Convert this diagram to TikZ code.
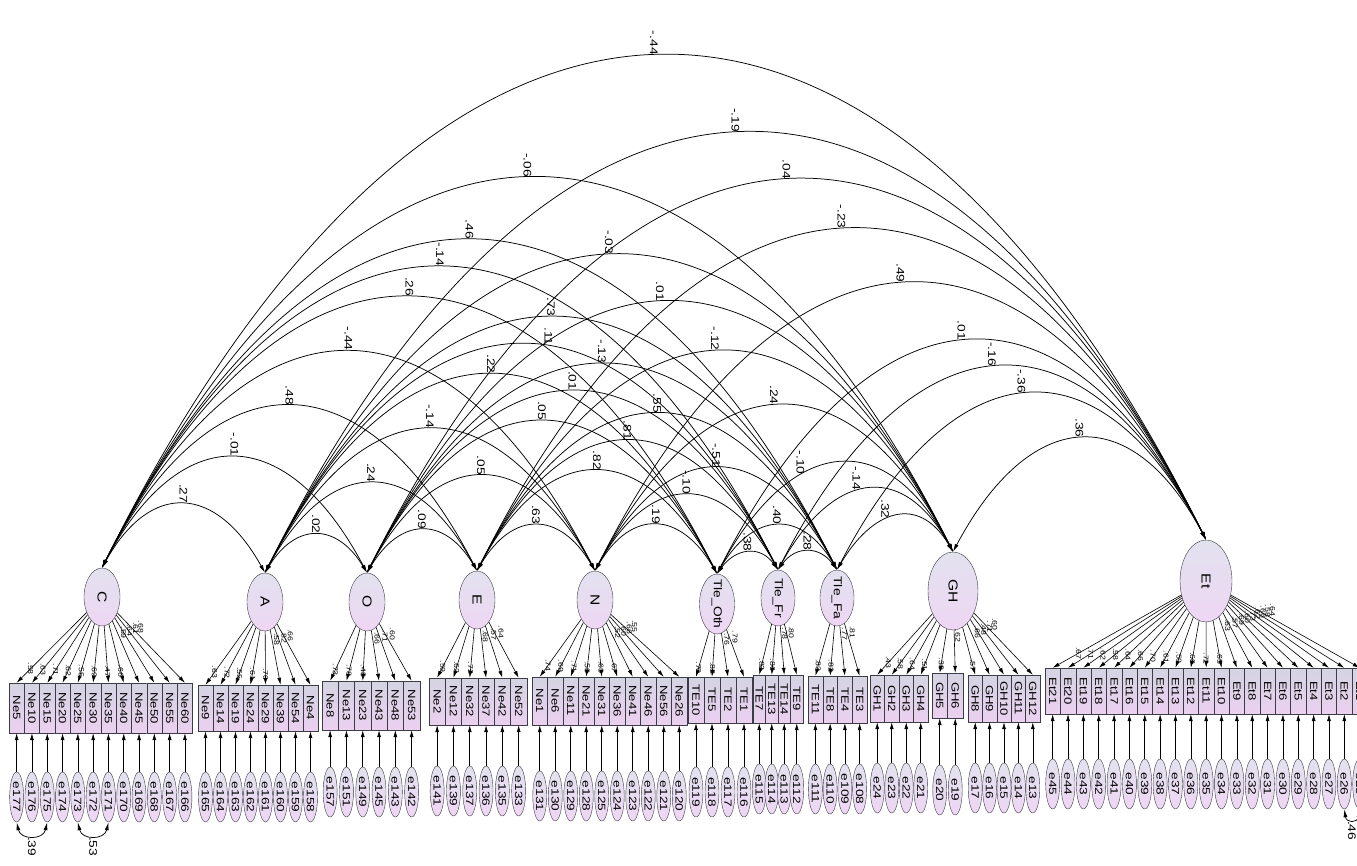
\documentclass[tikz,border=0pt]{standalone}
\usepackage{fontspec}
\setmainfont{Liberation Sans}
\usepackage{graphicx}
\usetikzlibrary{arrows.meta,shapes.geometric,calc}

\definecolor{lattop}{RGB}{226,226,238}
\definecolor{latbot}{RGB}{238,214,244}
\definecolor{boxtop}{RGB}{212,212,226}
\definecolor{boxbot}{RGB}{236,208,240}
\definecolor{edge}{RGB}{60,60,70}

\newcommand{\vt}[2][1.25]{\rotatebox{-90}{\scalebox{#1}[1]{#2}}}

\tikzset{
  lat/.style={ellipse, draw=edge, top color=lattop, bottom color=latbot, inner sep=0pt, minimum width=36, minimum height=58, font=\fontsize{13}{13}\selectfont},
  obs/.style={rectangle, draw=edge, top color=boxtop, bottom color=boxbot, inner sep=0pt, font=\fontsize{10.5}{10.5}\selectfont},
  err/.style={ellipse, draw=edge, top color=lattop, bottom color=latbot, inner sep=0pt, minimum width=14, minimum height=50, font=\fontsize{10.5}{10.5}\selectfont},
  load/.style={-{Latex[length=7pt,width=4pt]}, line width=0.6pt},
  cov/.style={{Latex[length=8pt,width=4pt]}-{Latex[length=8pt,width=4pt]}, line width=0.75pt},
  clab/.style={font=\fontsize{11}{11}\selectfont, inner sep=1pt, anchor=south},
  ldl/.style={font=\fontsize{7}{7}\selectfont, inner sep=0.5pt}
}

% factor, prefix, x0, box width, box top, box height, error y, labels near factor after, items
\newcommand{\indrow}[9]{%
  \foreach \lab/\err/\ld [count=\i] in {#9} {
    \node[obs, minimum width=#4, minimum height=#6] (b#2\i) at ({#3+(\i-0.5)*#4}, {#5+#6/2}) {\vt{\lab}};
    \node[err] (e#2\i) at ({#3+(\i-0.5)*#4}, #7) {\vt[1.3]{\err}};
    \draw[load] (e#2\i) -- (b#2\i);
    \ifnum\i>#8\relax
      \draw[load] (#1) -- (b#2\i.north) node[pos=.3, ldl, anchor=south west] {\vt{\ld}};
    \else
      \draw[load] (#1) -- (b#2\i.north) node[pos=.8, ldl] {\vt{\ld}};
    \fi
  }}

\begin{document}
\begin{tikzpicture}[x=1pt,y=-1pt]
\useasboundingbox (0,0) rectangle (1357,865);

\node[lat] (C) at (102,597) {\vt[1.2]{C}};
\node[lat] (A) at (265,602) {\vt[1.2]{A}};
\node[lat] (O) at (367,602) {\vt[1.2]{O}};
\node[lat] (E) at (477,600) {\vt[1.2]{E}};
\node[lat] (N) at (595,600) {\vt[1.2]{N}};
\node[lat, minimum width=35, minimum height=60, font=\fontsize{11.5}{11.5}\selectfont] (TO) at (717,604) {\vt[1.2]{\makebox[0pt]{Tle\_Oth}}};
\node[lat, minimum width=34, minimum height=56, font=\fontsize{11.5}{11.5}\selectfont] (TF) at (778,598) {\vt[1.2]{\makebox[0pt]{Tle\_Fr}}};
\node[lat, minimum width=34, minimum height=56, font=\fontsize{11.5}{11.5}\selectfont] (TA) at (837,598) {\vt[1.2]{\makebox[0pt]{Tle\_Fa}}};
\node[lat, minimum width=50, minimum height=78] (GH) at (953,591) {\vt[1.2]{GH}};
\node[lat, minimum width=52, minimum height=82] (Et) at (1206,581) {\vt[1.2]{Et}};

\indrow{C}{C}{9}{15.3}{683}{50}{797}{8}{Ne5/e177/.58, Ne10/e176/.63, Ne15/e175/.71, Ne20/e174/.62, Ne25/e173/.55, Ne30/e172/.69, Ne35/e171/.47, Ne40/e170/.66, Ne45/e169/.59, Ne50/e168/.64, Ne55/e167/.61, Ne60/e166/.68}
\indrow{A}{A}{198}{15}{685}{46}{797}{5}{Ne9/e165/.63, Ne14/e164/.72, Ne19/e163/.55, Ne24/e162/.61, Ne29/e161/.70, Ne39/e160/.58, Ne54/e159/.82, Ne4/e158/.66}
\indrow{O}{O}{322}{16.3}{681}{49}{792}{3}{Ne8/e157/.73, Ne13/e151/.78, Ne23/e149/.48, Ne43/e145/.66, Ne48/e143/.71, Ne53/e142/.60}
\indrow{E}{E}{429}{16.3}{678}{47}{791}{3}{Ne2/e141/.59, Ne12/e139/.62, Ne32/e137/.72, Ne37/e136/.68, Ne42/e135/.57, Ne52/e133/.64}
\indrow{N}{N}{532}{15.5}{677}{48}{796}{6}{Ne1/e131/.74, Ne6/e130/.69, Ne11/e129/.71, Ne21/e128/.58, Ne31/e125/.63, Ne36/e124/.67, Ne41/e123/.52, Ne46/e122/.60, Ne56/e121/.66, Ne26/e120/.55}
\indrow{TO}{TO}{688}{16}{677}{46}{792}{2}{TE10/e119/.70, TE5/e118/.82, TE2/e117/.76, TE1/e116/.79}
\indrow{TF}{TF}{753}{12.5}{675}{48}{789}{2}{TE7/e115/.82, TE13/e114/.86, TE14/e113/.78, TE9/e112/.80}
\indrow{TA}{TA}{808}{14.75}{676}{47}{789}{2}{TE11/e111/.83, TE8/e110/.82, TE4/e109/.77, TE3/e108/.81}
\indrow{GH}{GHa}{870}{14.5}{675}{47}{788}{4}{GH1/e24/.43, GH2/e23/.58, GH3/e22/.64, GH4/e21/.51}
\indrow{GH}{GHb}{932}{15.5}{673}{45}{790}{1}{GH5/e20/.39, GH6/e19/.62}
\indrow{GH}{GHc}{968}{14.4}{675}{47}{788}{1}{GH8/e17/.57, GH9/e16/.66, GH10/e15/.48, GH11/e14/.71, GH12/e13/.60}
\indrow{Et}{Et}{1045}{15.35}{668}{46}{784}{12}{Et21/e45/.67, Et20/e44/.71, Et19/e43/.62, Et18/e42/.58, Et17/e41/.64, Et16/e40/.66, Et15/e39/.70, Et14/e38/.61, Et13/e37/.59, Et12/e36/.68, Et11/e35/.72, Et10/e34/.65, Et9/e33/.63, Et8/e32/.57, Et7/e31/.69, Et6/e30/.60, Et5/e29/.73, Et4/e28/.62, Et3/e27/.66, Et2/e26/.58, Et1/e25/.64}

\foreach \fa/\fb/\val/\ps in {C/A/.27/.5, C/O/-.01/.5, C/E/.48/.5, C/N/-.44/.5, C/TO/.26/.5, C/TF/-.14/.5, C/TA/.46/.5, C/GH/-.06/.5, C/Et/-.44/.5,
    A/O/.02/.5, A/E/.24/.5, A/N/-.14/.5, A/TO/.22/.5, A/TF/.11/.55, A/TA/.73/.5, A/GH/-.03/.5, A/Et/-.19/.5,
    O/E/.09/.5, O/N/.05/.5, O/TO/.05/.5, O/TF/.01/.5, O/TA/-.13/.5, O/GH/.01/.5, O/Et/.04/.5,
    E/N/.63/.5, E/TO/.82/.5, E/TF/.81/.5, E/TA/.55/.5, E/GH/-.12/.5, E/Et/-.23/.5,
    N/TO/.19/.5, N/TF/-.10/.5, N/TA/-.51/.5, N/GH/.24/.5, N/Et/.49/.5,
    TO/TF/.38/.5, TO/TA/.40/.5, TO/GH/-.10/.36, TO/Et/.01/.5,
    TF/TA/.28/.5, TF/GH/-.14/.45, TF/Et/-.16/.5,
    TA/GH/.32/.42, TA/Et/-.36/.5,
    GH/Et/.36/.5}
  \draw[cov] let \p1=(\fa.north), \p2=(\fb.north), \n1={\x2-\x1} in
    (\p1) .. controls +(0.3*\n1, 0.612*\n1-12pt) and +(-0.3*\n1, 0.612*\n1-12pt) .. (\p2)
    node[pos=\ps, clab] {\vt{\val}};

\draw[cov] (eC1.south) .. controls +(4,18) and +(-4,18) .. (eC3.south) node[pos=.5, clab, anchor=north] {\vt{.39}};
\draw[cov] (eC5.south) .. controls +(4,18) and +(-4,18) .. (eC7.south) node[pos=.5, clab, anchor=north] {\vt{.53}};
\draw[cov] (eEt20.south) .. controls +(2,14) and +(-2,14) .. (eEt21.south) node[pos=.5, clab, anchor=north] {\vt{.46}};
\end{tikzpicture}
\end{document}
